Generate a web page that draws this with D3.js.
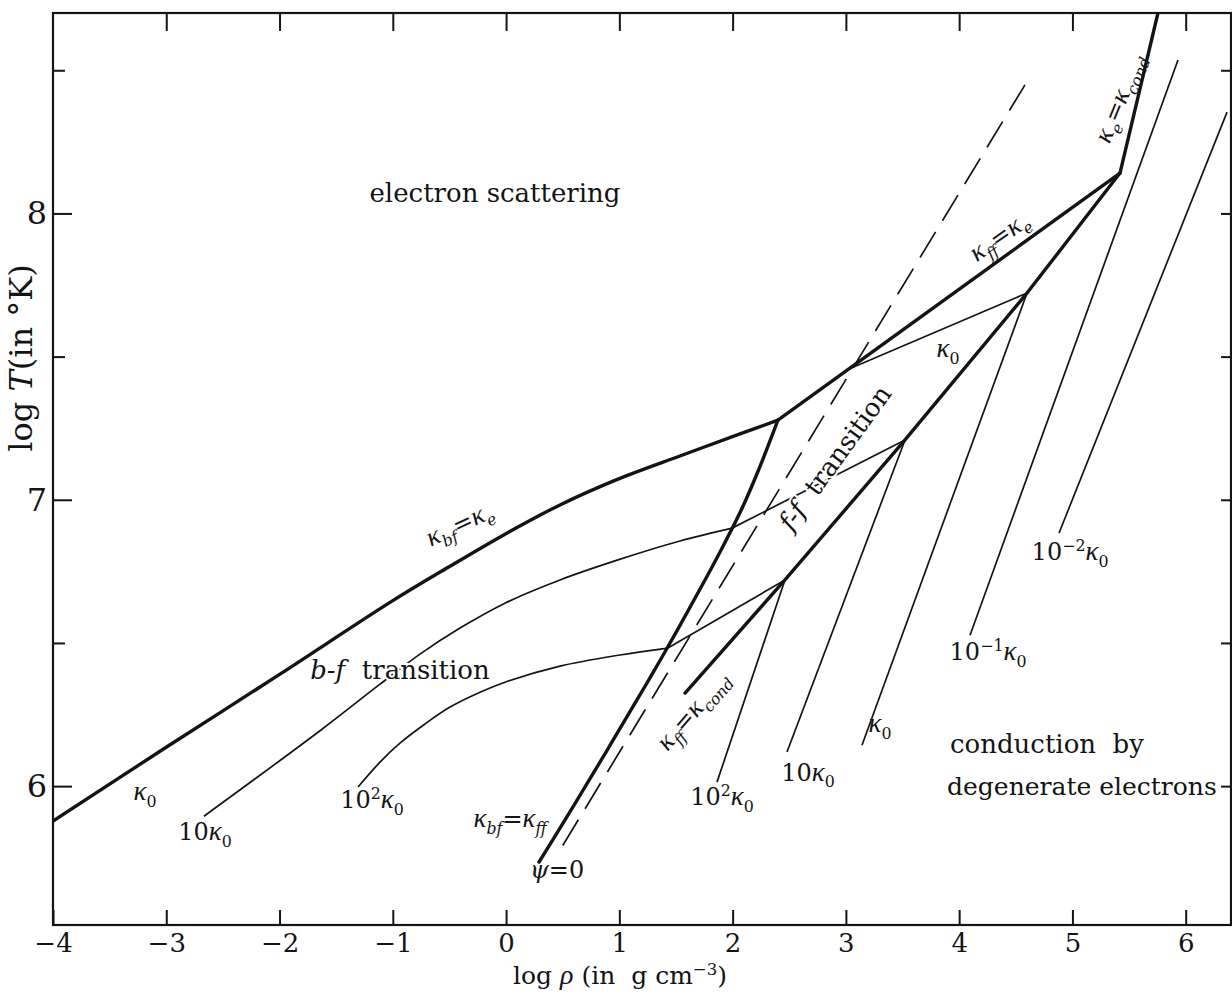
<!DOCTYPE html>
<html>
<head>
<meta charset="utf-8">
<script src="https://cdn.jsdelivr.net/npm/d3@7"></script>
<style>
  html, body { margin: 0; padding: 0; background: #fff; }
  svg { display: block; font-family: "DejaVu Serif", "Liberation Serif", serif; }
  text { white-space: pre; }
</style>
</head>
<body>
<svg id="chart" width="1232" height="995"></svg>
<script>
// ---- axis ticks ----
const xTickValues = [-4, -3, -2, -1, 0, 1, 2, 3, 4, 5, 6];
const yTickValues = [6, 6.5, 7, 7.5, 8, 8.5];
const yLabelValues = [6, 7, 8];

// ---- boundary curves, points are [log rho, log T] ----
const bfEqualsE = [[-4, 5.878], [-3.011, 6.133], [-1.996, 6.391], [-1.007, 6.646], [-0.495, 6.768],
  [-0.009, 6.880], [0.476, 6.982], [0.988, 7.072], [1.535, 7.153], [2.065, 7.230], [2.40, 7.278]];
const bfEqualsFf = [[0.291, 5.735], [0.465, 5.846], [0.680, 5.986], [0.893, 6.126], [1.103, 6.266],
  [1.310, 6.405], [1.512, 6.545], [1.708, 6.685], [1.897, 6.824], [2.076, 6.964], [2.229, 7.104], [2.40, 7.278]];
const ffEqualsE = [[2.40, 7.278], [5.42, 8.141]];
const eEqualsCond = [[5.42, 8.141], [5.755, 8.70]];
const ffEqualsCond = [[1.58, 6.325], [2.462, 6.720], [3.522, 7.209], [4.599, 7.722], [5.42, 8.141]];

// ---- opacity contours ----
const bfTen = [[-2.667, 5.895], [-1.634, 6.196], [-1.113, 6.356], [-0.760, 6.461], [-0.407, 6.552],
  [-0.010, 6.639], [0.476, 6.720], [0.988, 6.790], [1.535, 6.856], [1.995, 6.901]];
const bfHundred = [[-1.307, 5.997], [-1.113, 6.084], [-0.937, 6.150], [-0.716, 6.217], [-0.495, 6.276],
  [-0.230, 6.328], [-0.010, 6.363], [0.476, 6.419], [1.006, 6.458], [1.429, 6.482]];
const ffOne = [[3.027, 7.457], [4.599, 7.722]];
const ffTen = [[1.995, 6.901], [3.522, 7.209]];
const ffHundred = [[1.429, 6.482], [2.462, 6.720]];
const condOne = [[4.599, 7.722], [3.142, 6.143]];
const condTen = [[3.522, 7.209], [2.480, 6.119]];
const condHundred = [[2.462, 6.720], [1.862, 6.014]];
const condTenth = [[5.932, 8.536], [4.096, 6.527]];
const condHundredth = [[6.365, 8.354], [4.882, 6.884]];

// ---- degeneracy line psi = 0 ----
const psiZero = [[4.581, 8.449], [0.476, 5.777]];

// ---- annotations: [markup, log rho, log T, rotation] ----
const curveLabels = [
  ["κ_{0}", -3.188, 5.969, 0],
  ["10κ_{0}", -2.658, 5.829, 0],
  ["10^{2}κ_{0}", -1.184, 5.941, 0],
  ["κ_{*bf*}=κ_{*ff*}", 0.035, 5.874, 0],
  ["*ψ*=0", 0.450, 5.697, 0],
  ["10^{2}κ_{0}", 1.906, 5.951, 0],
  ["10κ_{0}", 2.665, 6.038, 0],
  ["κ_{0}", 3.301, 6.206, 0],
  ["10^{−1}κ_{0}", 4.255, 6.458, 0],
  ["10^{−2}κ_{0}", 4.979, 6.807, 0],
  ["κ_{0}", 3.902, 7.516, 0],
  ["κ_{*bf*}=κ_{*e*}", -0.400, 6.905, -25],
  ["κ_{*ff*}=κ_{*e*}", 4.370, 7.911, -35],
  ["κ_{*e*}=κ_{*cond*}", 5.440, 8.400, -68],
  ["κ_{*ff*}=κ_{*cond*}", 1.668, 6.258, -49]
];
// [markup, log rho, log T, rotation, anchor, size, masks lines beneath]
const regionLabels = [
  ["electron scattering", -0.098, 8.057, 0, "middle", 26, false],
  ["*b-f*  transition", -0.937, 6.392, 0, "middle", 26, true],
  ["*f-f*  transition", 2.930, 7.139, -54, "middle", 26, true],
  ["conduction  by", 3.919, 6.133, 0, "start", 26, false],
  ["degenerate electrons", 3.893, 5.986, 0, "start", 25, false]
];

const svg = d3.select("#chart");
const ink = "#141414";
const plot = { left: 53, right: 1231, top: 13, bottom: 925 };

const x = d3.scaleLinear().domain([-4, 6.4]).range([plot.left, plot.right]);
const y = d3.scaleLinear().domain([5.515, 8.70]).range([plot.bottom, plot.top]);

// rich text: *italic*, _{subscript}, ^{superscript}; Greek letters set in italic
function rich(textSel, str, fs) {
  const parts = [];
  const re = /([_^])\{([^}]*)\}|\*([^*]+)\*|([^_^*]+)/g;
  let m;
  while ((m = re.exec(str))) {
    if (m[1]) {
      const mode = m[1] === "_" ? "sub" : "sup";
      m[2].split(/(\*[^*]+\*)/).filter(s => s).forEach(s => {
        parts.push({ t: s.replace(/\*/g, ""), mode, it: s.startsWith("*") });
      });
    } else if (m[3]) {
      parts.push({ t: m[3], mode: "n", it: true });
    } else {
      m[4].split(/(κ|ψ|ρ)/).filter(s => s).forEach(s => {
        parts.push({ t: s, mode: "n", it: /κ|ψ|ρ/.test(s), greek: /κ|ψ|ρ/.test(s) });
      });
    }
  }
  let cur = 0;
  parts.forEach(p => {
    const target = p.mode === "sub" ? 0.27 * fs : p.mode === "sup" ? -0.38 * fs : 0;
    const size = p.mode === "n" ? (p.greek ? 1.12 * fs : fs) : 0.66 * fs;
    const ts = textSel.append("tspan").text(p.t)
      .attr("font-size", size)
      .attr("font-style", p.it ? "italic" : "normal");
    if (p.greek) ts.attr("font-family", "'Liberation Serif', serif");
    if (target !== cur) { ts.attr("dy", target - cur); cur = target; }
  });
}

svg.append("clipPath").attr("id", "plot-clip")
  .append("rect").attr("x", plot.left).attr("y", plot.top)
  .attr("width", plot.right - plot.left).attr("height", plot.bottom - plot.top);
const g = svg.append("g").attr("clip-path", "url(#plot-clip)");

const smooth = d3.line().x(d => x(d[0])).y(d => y(d[1])).curve(d3.curveCatmullRom.alpha(0.5));
const straight = d3.line().x(d => x(d[0])).y(d => y(d[1]));

// thin contours of constant opacity
[bfTen, bfHundred].forEach(pts => g.append("path").datum(pts).attr("d", smooth)
  .attr("fill", "none").attr("stroke", ink).attr("stroke-width", 1.7));
[ffOne, ffTen, ffHundred, condOne, condTen, condHundred, condTenth, condHundredth]
  .forEach(pts => g.append("path").datum(pts).attr("d", straight)
    .attr("fill", "none").attr("stroke", ink).attr("stroke-width", 1.7));

// psi = 0
g.append("path").datum(psiZero).attr("d", straight)
  .attr("fill", "none").attr("stroke", ink).attr("stroke-width", 1.7)
  .attr("stroke-dasharray", "30 13");

// thick region boundaries
[bfEqualsE, bfEqualsFf].forEach(pts => g.append("path").datum(pts).attr("d", smooth)
  .attr("fill", "none").attr("stroke", ink).attr("stroke-width", 3.4)
  .attr("stroke-linejoin", "round").attr("stroke-linecap", "round"));
[ffEqualsE, eEqualsCond, ffEqualsCond].forEach(pts => g.append("path").datum(pts).attr("d", straight)
  .attr("fill", "none").attr("stroke", ink).attr("stroke-width", 3.4)
  .attr("stroke-linejoin", "round").attr("stroke-linecap", "round"));

// labels
curveLabels.forEach(([s, lx, ly, rot]) => {
  const t = svg.append("text")
    .attr("transform", `translate(${x(lx)},${y(ly)}) rotate(${rot})`)
    .attr("text-anchor", "middle").attr("dy", "0.33em").attr("fill", ink);
  rich(t, s, 24);
});
regionLabels.forEach(([s, lx, ly, rot, anchor, size, mask]) => {
  const t = svg.append("text")
    .attr("transform", `translate(${x(lx)},${y(ly)}) rotate(${rot})`)
    .attr("text-anchor", anchor).attr("dy", "0.33em").attr("fill", ink);
  if (mask) t.attr("stroke", "#fff").attr("stroke-width", 4).attr("paint-order", "stroke");
  rich(t, s, size);
});

// axes
const bottomAxis = d3.axisBottom(x).tickValues(xTickValues).tickSizeInner(-15).tickSizeOuter(0).tickPadding(9);
const topAxis = d3.axisTop(x).tickValues(xTickValues.slice(1)).tickSizeInner(-18).tickSizeOuter(0).tickFormat("");
const leftAxis = d3.axisLeft(y).tickValues(yTickValues).tickSizeInner(-19).tickSizeOuter(0).tickPadding(6)
  .tickFormat(d => yLabelValues.includes(d) ? d3.format("d")(d) : "");
const rightAxis = d3.axisRight(y).tickValues(yTickValues).tickSizeInner(-10).tickSizeOuter(0).tickFormat("");

function styleAxis(sel, size) {
  sel.attr("font-family", null).attr("font-size", null);
  sel.select(".domain").remove();
  sel.selectAll(".tick line").attr("stroke", ink).attr("stroke-width", 2);
  sel.selectAll(".tick text").attr("fill", ink).style("font-size", size + "px")
    .style("font-family", "'DejaVu Serif', serif");
}
svg.append("g").attr("transform", `translate(0,${plot.bottom})`).call(bottomAxis).call(styleAxis, 26);
svg.append("g").attr("transform", `translate(0,${plot.top})`).call(topAxis).call(styleAxis, 26);
const la = svg.append("g").attr("transform", `translate(${plot.left},0)`).call(leftAxis).call(styleAxis, 32);
la.selectAll(".tick").filter(d => !Number.isInteger(d)).select("line").attr("x2", 12);
svg.append("g").attr("transform", `translate(${plot.right},0)`).call(rightAxis).call(styleAxis, 26);

// frame
svg.append("rect").attr("x", plot.left).attr("y", plot.top)
  .attr("width", plot.right - plot.left).attr("height", plot.bottom - plot.top)
  .attr("fill", "none").attr("stroke", ink).attr("stroke-width", 2.2);

// axis titles
const xt = svg.append("text").attr("x", 620).attr("y", 984).attr("text-anchor", "middle").attr("fill", ink);
rich(xt, "log ρ (in  g cm^{−3})", 25);
const yt = svg.append("text").attr("transform", "translate(26,358) rotate(-90)")
  .attr("text-anchor", "middle").attr("dy", "0.35em").attr("fill", ink);
rich(yt, "log *T*(in °K)", 32);
</script>
</body>
</html>
